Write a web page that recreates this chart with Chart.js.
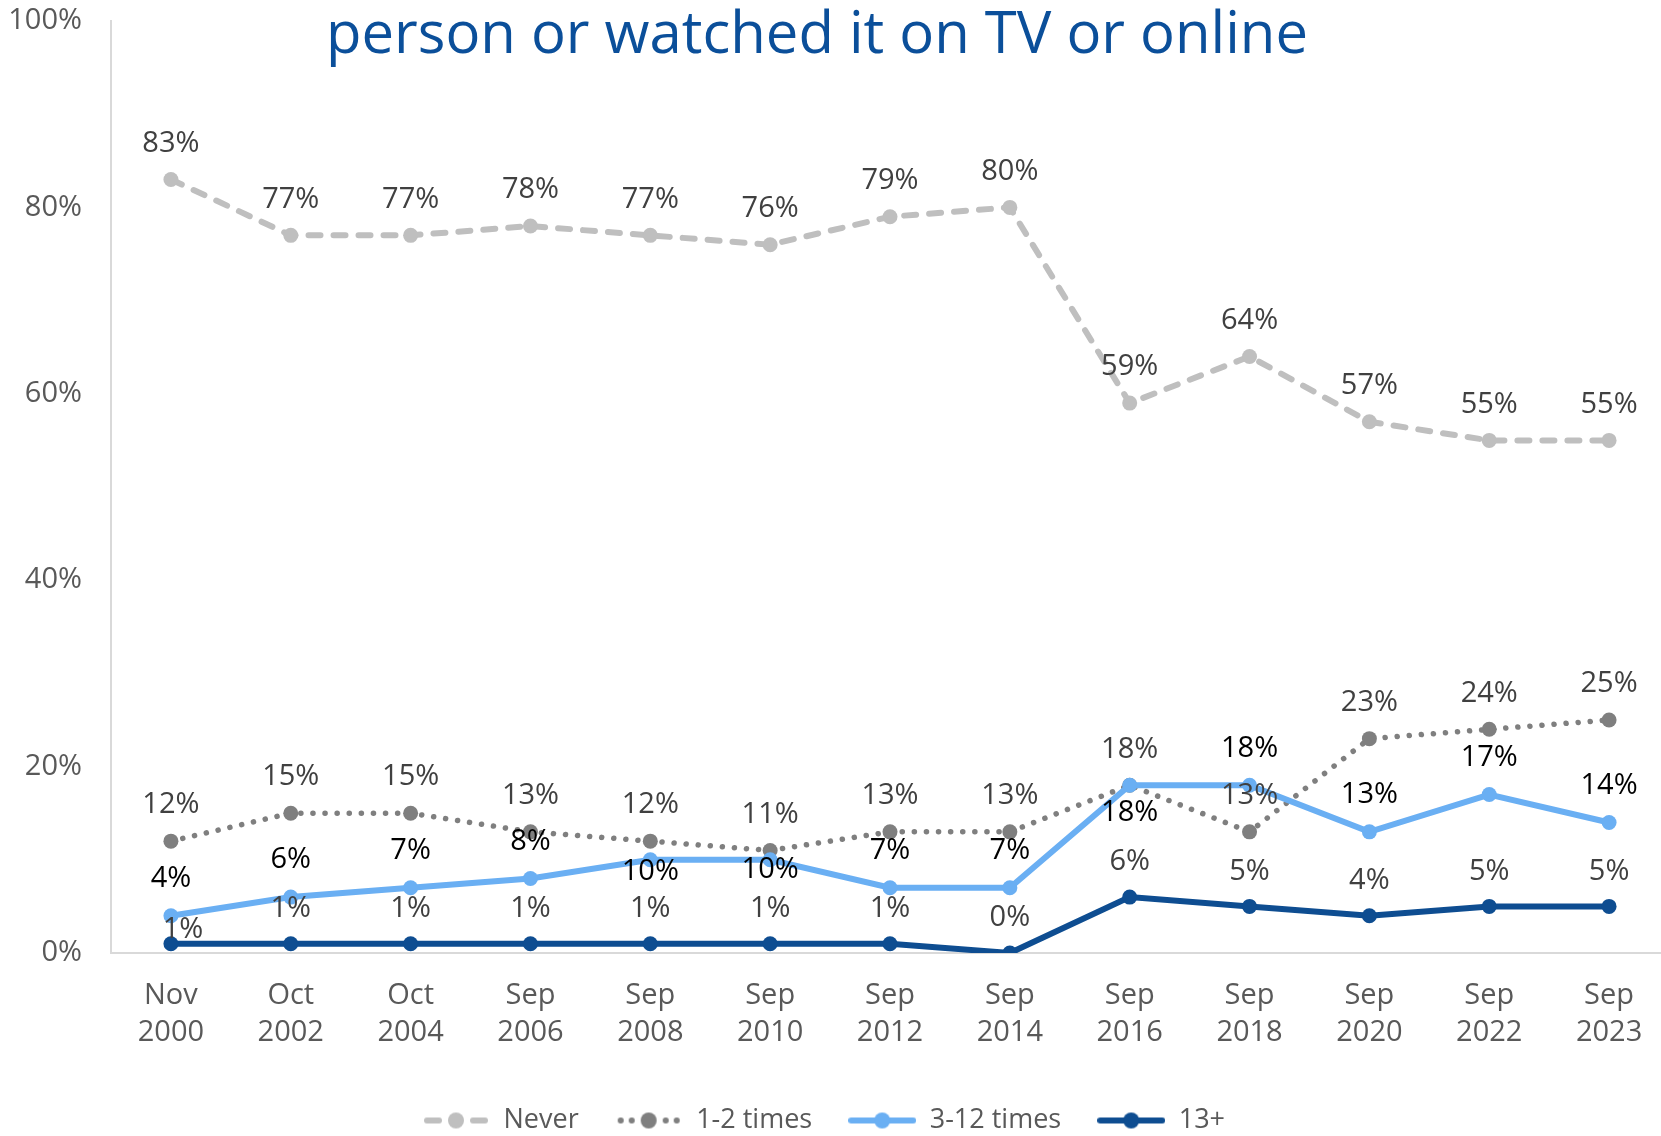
<!DOCTYPE html>
<html lang="en">
<head>
  <meta charset="UTF-8">
  <title>Attendance trend</title>
  <script src="https://cdn.jsdelivr.net/npm/chart.js"></script>
  <style>
    html, body {
      margin: 0;
      padding: 0;
      background: #fff;
      overflow: hidden;
    }
    .wrap {
      width: 1661px;
      height: 1136px;
      overflow: hidden;
      position: relative;
    }
    canvas {
      display: block;
    }
  </style>
</head>
<body>
  <div class="wrap">
    <canvas id="trend" width="1680" height="1144"></canvas>
  </div>

  <script>
    // survey waves
    const waves = [
      ['Nov', '2000'], ['Oct', '2002'], ['Oct', '2004'], ['Sep', '2006'],
      ['Sep', '2008'], ['Sep', '2010'], ['Sep', '2012'], ['Sep', '2014'],
      ['Sep', '2016'], ['Sep', '2018'], ['Sep', '2020'], ['Sep', '2022'],
      ['Sep', '2023']
    ];

    // share of respondents (%)
    const never      = [83, 77, 77, 78, 77, 76, 79, 80, 59, 64, 57, 55, 55];
    const oneTwo     = [12, 15, 15, 13, 12, 11, 13, 13, 18, 13, 23, 24, 25];
    const threeTwelve = [4, 6, 7, 8, 10, 10, 7, 7, 18, 18, 13, 17, 14];
    const thirteenPlus = [1, 1, 1, 1, 1, 1, 1, 0, 6, 5, 4, 5, 5];

    const yTicks = [0, 20, 40, 60, 80, 100];

    const FONT = "'Open Sans', 'Noto Sans', sans-serif";
    const C_NEVER = '#bfbfbf';
    const C_ONETWO = '#7f7f7f';
    const C_THREE = '#6aaff3';
    const C_THIRTEEN = '#0e4d91';

    // little line+marker swatches for the legend
    function swatch(color, kind) {
      const c = document.createElement('canvas');
      c.width = 68;
      c.height = 18;
      const g = c.getContext('2d');
      g.strokeStyle = color;
      g.fillStyle = color;
      g.lineCap = 'round';
      g.lineWidth = 6;
      g.beginPath();
      if (kind === 'dash') {
        g.moveTo(5, 9); g.lineTo(17, 9);
        g.moveTo(51, 9); g.lineTo(63, 9);
      } else if (kind === 'dot') {
        [6, 17, 51, 62].forEach(x => { g.moveTo(x, 9); g.lineTo(x + 0.1, 9); });
      } else {
        g.moveTo(3, 9); g.lineTo(65, 9);
      }
      g.stroke();
      g.beginPath();
      g.arc(34, 9, 8, 0, Math.PI * 2);
      g.fill();
      return c;
    }

    // title line drawn across the top of the plot
    const titlePlugin = {
      id: 'topTitle',
      afterLayout(chart) {
        // nudge the legend row a little to the left
        chart.legend.left -= 11;
        chart.legend.right -= 11;
      },
      afterDraw(chart) {
        const ctx = chart.ctx;
        ctx.save();
        ctx.font = '58px ' + FONT;
        ctx.fillStyle = '#0b4f9a';
        ctx.textAlign = 'center';
        ctx.textBaseline = 'alphabetic';
        ctx.fillText('person or watched it on TV or online', 817, 53);
        ctx.restore();
      }
    };

    // value labels next to each point
    const valueLabels = {
      id: 'valueLabels',
      afterDatasetsDraw(chart) {
        const ctx = chart.ctx;
        ctx.save();
        ctx.font = '29px ' + FONT;
        ctx.textAlign = 'center';
        ctx.textBaseline = 'middle';
        chart.data.datasets.forEach((ds, di) => {
          const meta = chart.getDatasetMeta(di);
          const lab = ds.valueLabel;
          meta.data.forEach((pt, i) => {
            const shift = (lab.shift && lab.shift[i]) || [0, lab.dy];
            ctx.fillStyle = lab.color;
            ctx.fillText(ds.data[i] + '%', pt.x + shift[0], pt.y + shift[1]);
          });
        });
        ctx.restore();
      }
    };

    const swatches = [
      swatch(C_NEVER, 'dash'),
      swatch(C_ONETWO, 'dot'),
      swatch(C_THREE, 'line'),
      swatch(C_THIRTEEN, 'line')
    ];

    new Chart(document.getElementById('trend'), {
      type: 'line',
      data: {
        labels: waves,
        datasets: [
          {
            label: 'Never',
            data: never,
            borderColor: C_NEVER,
            backgroundColor: C_NEVER,
            borderWidth: 6,
            borderDash: [12, 13],
            borderCapStyle: 'round',
            pointRadius: 7.5,
            pointBorderWidth: 0,
            order: 4,
            valueLabel: { color: '#404040', dy: -36 }
          },
          {
            label: '1-2 times',
            data: oneTwo,
            borderColor: C_ONETWO,
            backgroundColor: C_ONETWO,
            borderWidth: 5.5,
            borderDash: [0.1, 12],
            borderCapStyle: 'round',
            pointRadius: 7.5,
            pointBorderWidth: 0,
            order: 3,
            valueLabel: { color: '#404040', dy: -36 }
          },
          {
            label: '3-12 times',
            data: threeTwelve,
            borderColor: C_THREE,
            backgroundColor: C_THREE,
            borderWidth: 6,
            pointRadius: 7.5,
            pointBorderWidth: 0,
            order: 2,
            valueLabel: { color: '#000000', dy: -37, shift: { 4: [0, 12], 5: [0, 10], 8: [0, 27] } }
          },
          {
            label: '13+',
            data: thirteenPlus,
            borderColor: C_THIRTEEN,
            backgroundColor: C_THIRTEEN,
            borderWidth: 6,
            pointRadius: 7.5,
            pointBorderWidth: 0,
            order: 1,
            valueLabel: { color: '#404040', dy: -35, shift: { 0: [12, -14] } }
          }
        ]
      },
      options: {
        responsive: false,
        animation: false,
        events: [],
        layout: { padding: { left: 0, right: 11, top: 0, bottom: 0 } },
        scales: {
          x: {
            offset: true,
            grid: { display: false, drawTicks: false },
            border: { display: true, color: '#d9d9d9', width: 2 },
            ticks: {
              color: '#595959',
              font: { family: FONT, size: 29, lineHeight: 1.28 },
              padding: 24,
              maxRotation: 0,
              autoSkip: false
            },
            afterFit(scale) { scale.height = 118; }
          },
          y: {
            min: 0,
            max: 100,
            grid: { display: false, drawTicks: false },
            border: { display: true, color: '#d9d9d9', width: 2 },
            afterBuildTicks(scale) { scale.ticks = yTicks.map(v => ({ value: v })); },
            ticks: {
              color: '#595959',
              font: { family: FONT, size: 29 },
              padding: 29,
              callback: v => v + '%'
            },
            afterFit(scale) {
              scale.width = 111;
              // top of the plot sits just under the canvas edge
              scale.paddingTop = 21;
              scale.paddingBottom = 0;
            }
          }
        },
        plugins: {
          tooltip: { enabled: false },
          legend: {
            position: 'bottom',
            labels: {
              color: '#595959',
              font: { family: FONT, size: 27, lineHeight: 1 },
              usePointStyle: true,
              pointStyleWidth: 68,
              boxHeight: 18,
              padding: 36,
              generateLabels(chart) {
                return chart.data.datasets.map((ds, i) => ({
                  text: ds.label,
                  pointStyle: swatches[i],
                  fillStyle: ds.borderColor,
                  strokeStyle: ds.borderColor,
                  fontColor: '#595959',
                  lineWidth: 0,
                  hidden: false,
                  datasetIndex: i
                }));
              }
            }
          }
        }
      },
      plugins: [titlePlugin, valueLabels]
    });
  </script>
</body>
</html>
